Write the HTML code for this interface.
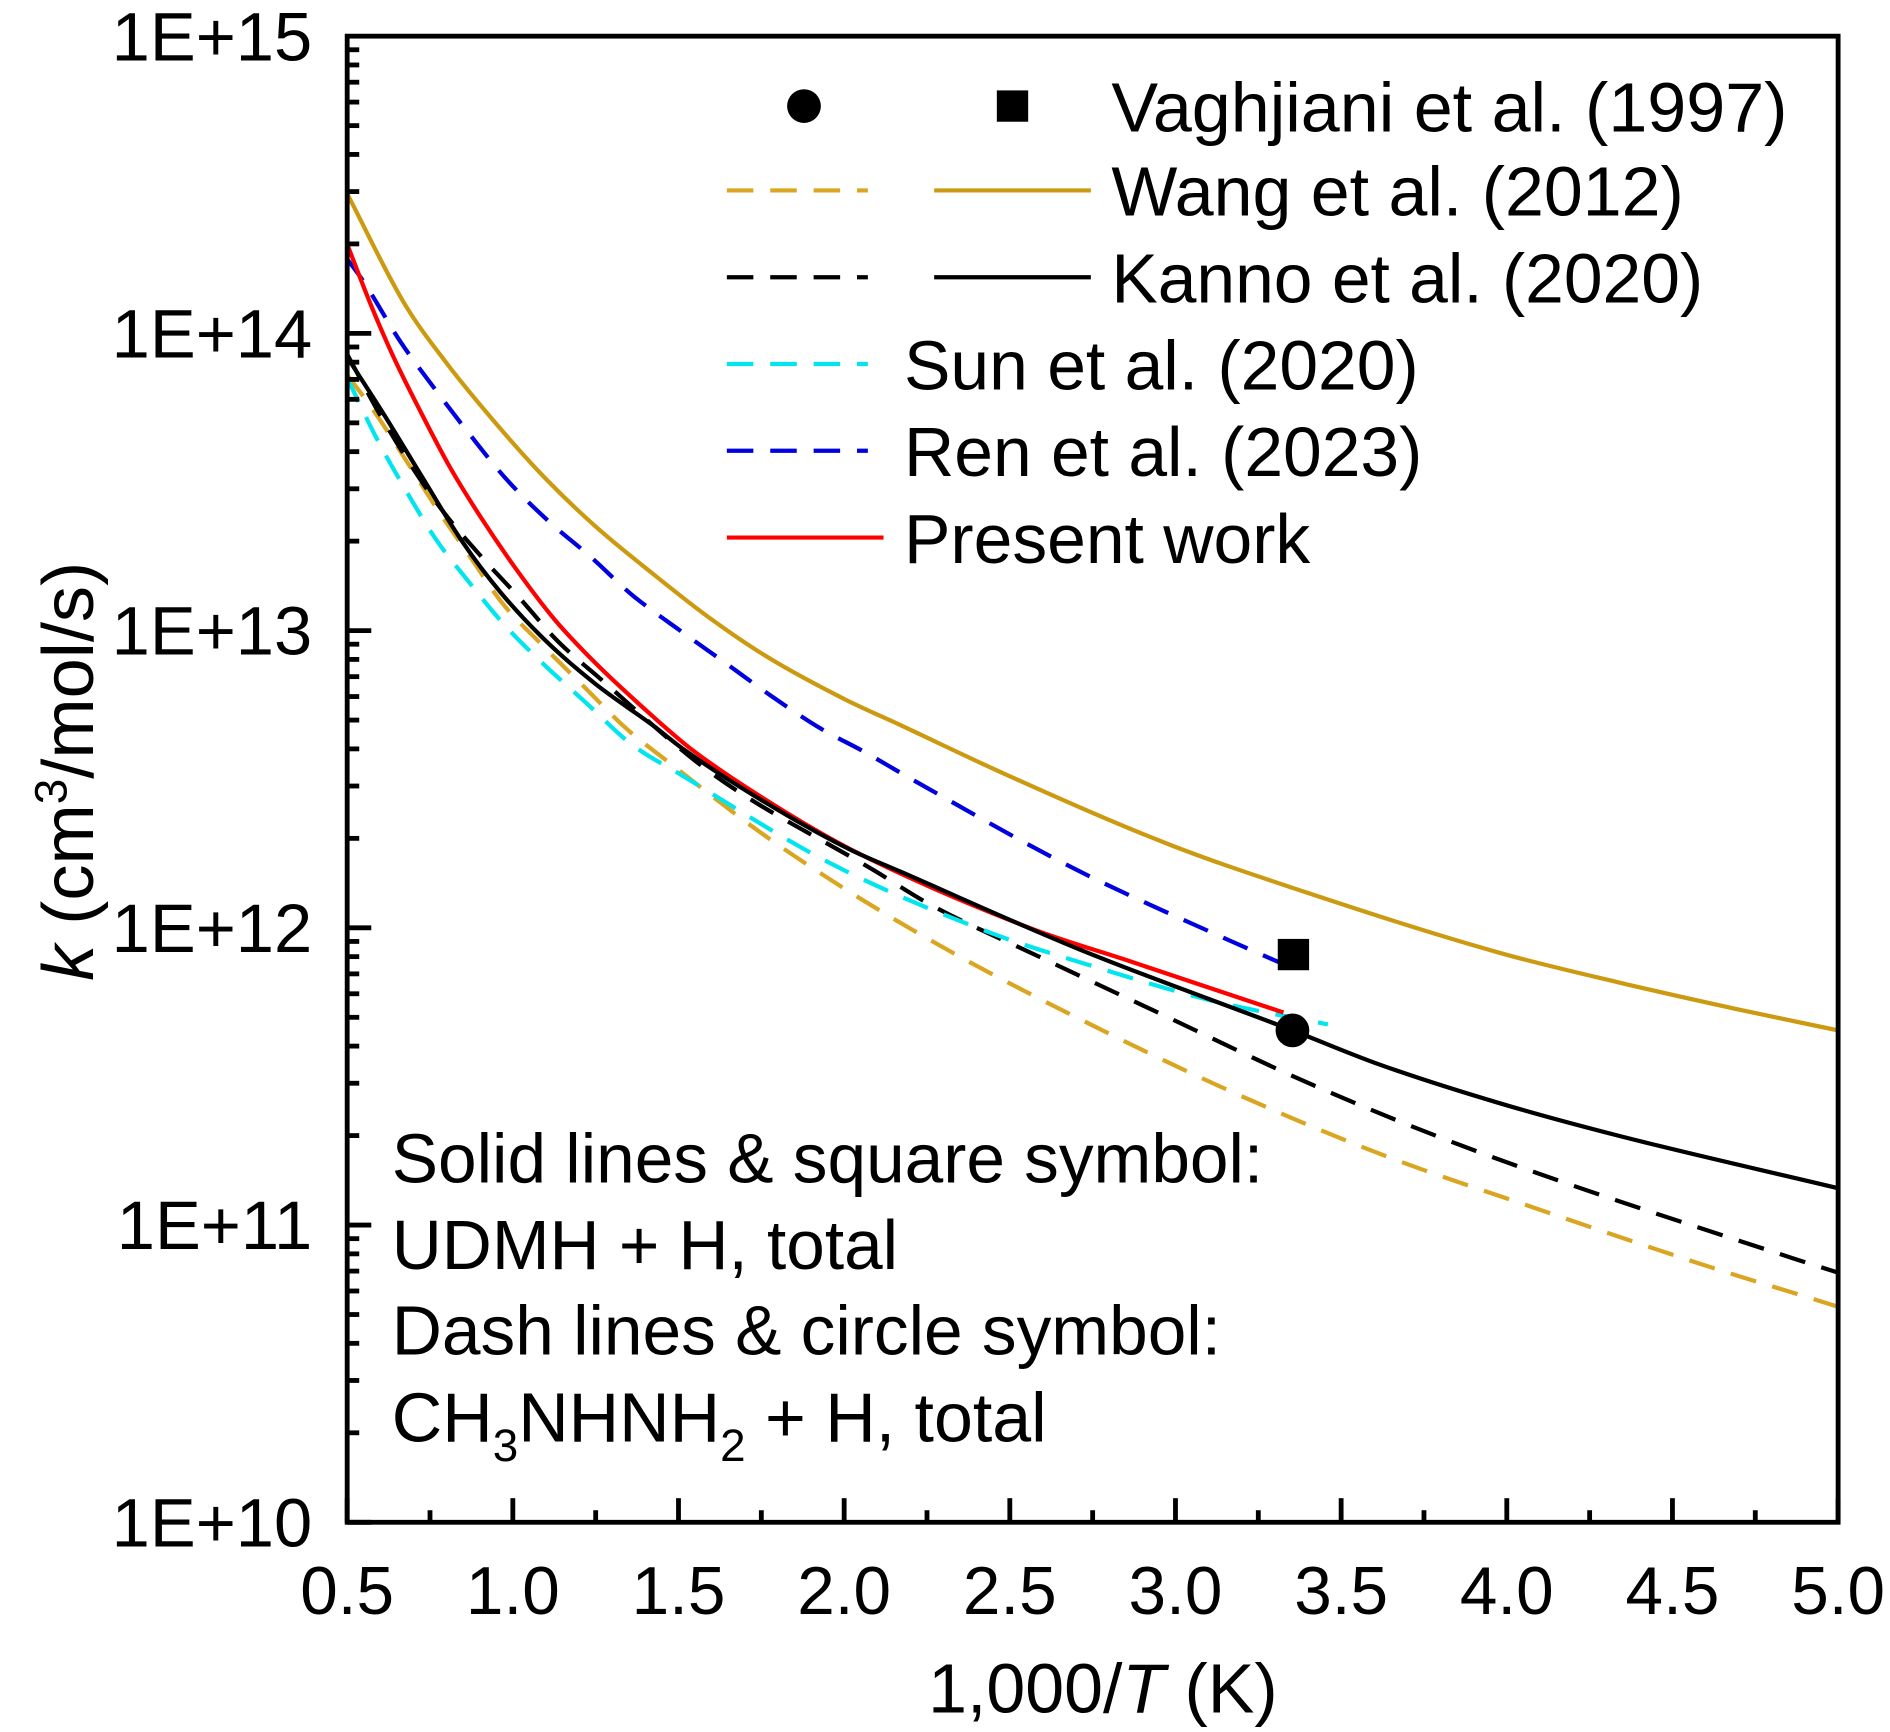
<!DOCTYPE html>
<html><head><meta charset="utf-8"><style>html,body{margin:0;padding:0;background:#fff}svg{display:block}text{font-family:"Liberation Sans",Arial,sans-serif;fill:#000}</style></head>
<body>
<svg id="chart" width="1890" height="1732" viewBox="0 0 1568 1437" xmlns="http://www.w3.org/2000/svg">
<g id="plot"></g>
<g id="axes"></g>
<g id="legend" font-size="58">
 <circle cx="667" cy="88" r="14" fill="#000"/>
 <rect x="827" y="75" width="26" height="26" fill="#000"/>
 <text x="922" y="109" textLength="561" lengthAdjust="spacingAndGlyphs">Vaghjiani et al. (1997)</text>
 <line x1="603" y1="158" x2="720" y2="158" stroke="#DAA520" stroke-width="3.5" stroke-dasharray="22,14"/>
 <line x1="775" y1="158" x2="905" y2="158" stroke="#CC9A10" stroke-width="3.5"/>
 <text x="922" y="179" textLength="475" lengthAdjust="spacingAndGlyphs">Wang et al. (2012)</text>
 <line x1="603" y1="230" x2="720" y2="230" stroke="#000" stroke-width="3.5" stroke-dasharray="22,14"/>
 <line x1="775" y1="230" x2="905" y2="230" stroke="#000" stroke-width="3.5"/>
 <text x="922" y="251" textLength="491" lengthAdjust="spacingAndGlyphs">Kanno et al. (2020)</text>
 <line x1="603" y1="302" x2="720" y2="302" stroke="#00E5EE" stroke-width="3.5" stroke-dasharray="22,14"/>
 <text x="750" y="323" textLength="427" lengthAdjust="spacingAndGlyphs">Sun et al. (2020)</text>
 <line x1="603" y1="374" x2="720" y2="374" stroke="#0000E0" stroke-width="3.5" stroke-dasharray="22,14"/>
 <text x="750" y="395" textLength="430" lengthAdjust="spacingAndGlyphs">Ren et al. (2023)</text>
 <line x1="603" y1="446" x2="733" y2="446" stroke="#F00" stroke-width="3.5"/>
 <text x="750" y="467" textLength="337" lengthAdjust="spacingAndGlyphs">Present work</text>
</g>
<g font-size="58">
 <text x="325" y="981" textLength="723" lengthAdjust="spacingAndGlyphs">Solid lines &amp; square symbol:</text>
 <text x="325" y="1053" textLength="420" lengthAdjust="spacingAndGlyphs">UDMH + H, total</text>
 <text x="325" y="1124" textLength="688" lengthAdjust="spacingAndGlyphs">Dash lines &amp; circle symbol:</text>
 <text x="325" y="1196">CH<tspan font-size="38" dy="16">3</tspan><tspan dy="-16">NHNH</tspan><tspan font-size="38" dy="16">2</tspan><tspan dy="-16"> + H, total</tspan></text>
</g>
<text x="915" y="1421" font-size="58" text-anchor="middle">1,000/<tspan font-style="italic">T</tspan> (K)</text>
<text transform="translate(77,640) rotate(-90)" font-size="60" text-anchor="middle"><tspan font-style="italic">k</tspan> (cm<tspan font-size="38" dy="-22">3</tspan><tspan dy="22">/mol/s)</tspan></text>
</svg>
<script>
const xTicks=[0.5,1.0,1.5,2.0,2.5,3.0,3.5,4.0,4.5,5.0];
const yTickLabels=["1E+10","1E+11","1E+12","1E+13","1E+14","1E+15"];
const wangSolidX=[0.5,0.673,0.8,0.962,1.1,1.25,1.424,1.597,1.77,2.0,2.168,2.48,2.982,3.344,3.978,4.339,4.70,5.0];
const wangSolidY=[14.47,14.10,13.90,13.68,13.51,13.35,13.19,13.04,12.91,12.77,12.683,12.52,12.28,12.138,11.916,11.816,11.725,11.655];
const kannoSolidX=[0.5,0.615,0.73,0.847,0.962,1.1,1.25,1.424,1.516,1.75,2.018,2.168,2.711,3.353,3.616,3.978,4.339,5.0];
const kannoSolidY=[13.92,13.72,13.51,13.30,13.13,12.965,12.82,12.68,12.60,12.43,12.263,12.19,11.927,11.655,11.54,11.41,11.30,11.124];
const kannoDashX=[0.5,0.592,0.696,0.79,0.904,1.02,1.135,1.262,1.6,2.095,2.257,2.594,2.928,3.417,3.905,4.864,5.0];
const kannoDashY=[13.93,13.74,13.55,13.40,13.25,13.11,12.965,12.84,12.52,12.19,12.08,11.90,11.725,11.47,11.25,10.888,10.84];
const wangDashX=[0.5,0.58,0.685,0.777,0.87,0.97,1.09,1.216,1.343,1.474,1.751,2.048,2.349,2.656,3.127,3.616,4.104,4.61,4.937,5.0];
const wangDashY=[13.86,13.74,13.56,13.40,13.25,13.09,12.95,12.81,12.67,12.554,12.318,12.099,11.903,11.724,11.47,11.24,11.05,10.86,10.747,10.725];
const sunX=[0.5,0.592,0.673,0.766,0.87,0.974,1.09,1.228,1.355,1.509,1.962,2.445,2.765,3.109,3.46];
const sunY=[13.85,13.64,13.48,13.31,13.16,13.02,12.89,12.75,12.62,12.514,12.215,11.982,11.866,11.755,11.675];
const renX=[0.5,0.546,0.662,0.76,0.87,0.98,1.106,1.233,1.36,1.505,1.643,1.78,1.93,2.056,2.204,2.693,3.164,3.35];
const renY=[14.25,14.18,13.97,13.82,13.66,13.51,13.37,13.25,13.12,13.00,12.89,12.78,12.67,12.595,12.50,12.20,11.957,11.866];
const presentX=[0.5,0.57,0.64,0.72,0.81,0.904,1.008,1.124,1.25,1.424,1.54,1.75,2.018,2.566,2.856,3.326];
const presentY=[14.30,14.10,13.92,13.74,13.55,13.38,13.21,13.04,12.89,12.71,12.60,12.44,12.265,11.997,11.89,11.715];
const circleX=[3.353], circleY=[11.655];
const squareX=[3.356], squareY=[11.91];

const L=288,R=1525,T=30,B=1263;
const sx=v=>L+(v-0.5)/4.5*(R-L);
const sy=lg=>B-(lg-10)/5*(B-T);
const NS="http://www.w3.org/2000/svg";
const plot=document.getElementById('plot'), axes=document.getElementById('axes');
function mk(tag,attrs,parent){const e=document.createElementNS(NS,tag);for(const k in attrs)e.setAttribute(k,attrs[k]);parent.appendChild(e);return e;}
function smooth(xs,ys){
 const X=xs.map(sx),Y=ys.map(sy),n=X.length;
 const d=[],m=[];
 for(let i=0;i<n-1;i++)d.push((Y[i+1]-Y[i])/(X[i+1]-X[i]));
 m[0]=d[0];m[n-1]=d[n-2];
 for(let i=1;i<n-1;i++){m[i]=(d[i-1]*d[i]<=0)?0:(d[i-1]+d[i])/2;}
 for(let i=0;i<n-1;i++){if(d[i]===0){m[i]=0;m[i+1]=0;continue;}
  const a=m[i]/d[i],b=m[i+1]/d[i],s=a*a+b*b;if(s>9){const t=3/Math.sqrt(s);m[i]=t*a*d[i];m[i+1]=t*b*d[i];}}
 let p="M"+X[0]+","+Y[0];
 for(let i=0;i<n-1;i++){const h=(X[i+1]-X[i])/3;
  p+=` C${X[i]+h},${Y[i]+m[i]*h} ${X[i+1]-h},${Y[i+1]-m[i+1]*h} ${X[i+1]},${Y[i+1]}`;}
 return p;}
function line(name,xs,ys,color,dash){
 const e=mk('path',{d:smooth(xs,ys),fill:'none',stroke:color,'stroke-width':3.5},plot);
 if(dash)e.setAttribute('stroke-dasharray','22,14');
 
 }
line('wang-dash-line',wangDashX,wangDashY,'#DAA520',true);
line('kanno-dash-line',kannoDashX,kannoDashY,'#000',true);
line('sun-dash-line',sunX,sunY,'#00E5EE',true);
line('ren-dash-line',renX,renY,'#0000E0',true);
line('wang-solid-line',wangSolidX,wangSolidY,'#CC9A10',false);
line('present-work-line',presentX,presentY,'#F00',false);
line('kanno-solid-line',kannoSolidX,kannoSolidY,'#000',false);
circleX.forEach((x,i)=>{const c=mk('circle',{cx:sx(x),cy:sy(circleY[i]),r:14,fill:'#000'},plot);
 
 });
squareX.forEach((x,i)=>{const r=mk('rect',{x:sx(x)-13,y:sy(squareY[i])-13,width:26,height:26,fill:'#000'},plot);
 
 });
const frame=mk('rect',{x:L,y:T,width:R-L,height:B-T,fill:'none',stroke:'#000','stroke-width':4},axes);


for(let v=0.5;v<=5.001;v+=0.25){const major=Math.abs((v*2)-Math.round(v*2))<1e-6;const len=major?20:10;
 const t=mk('line',{x1:sx(v),x2:sx(v),y1:B,y2:B-len,stroke:'#000','stroke-width':4},axes);
 
 }
xTicks.forEach(v=>{const t=mk('text',{x:sx(v),y:1339,'font-size':56,'text-anchor':'middle'},axes);t.textContent=v.toFixed(1);
 
 });
for(let d=10;d<15;d++){for(let m=1;m<10;m++){const lg=d+Math.log10(m);const len=m===1?20:10;
 const t=mk('line',{x1:L,x2:L+len,y1:sy(lg),y2:sy(lg),stroke:'#000','stroke-width':4},axes);
 
 }}
yTickLabels.forEach((s,i)=>{const t=mk('text',{x:259,y:sy(10+i)+20,'font-size':57,'text-anchor':'end'},axes);t.textContent=s;
 
 });
</script>
</body></html>
